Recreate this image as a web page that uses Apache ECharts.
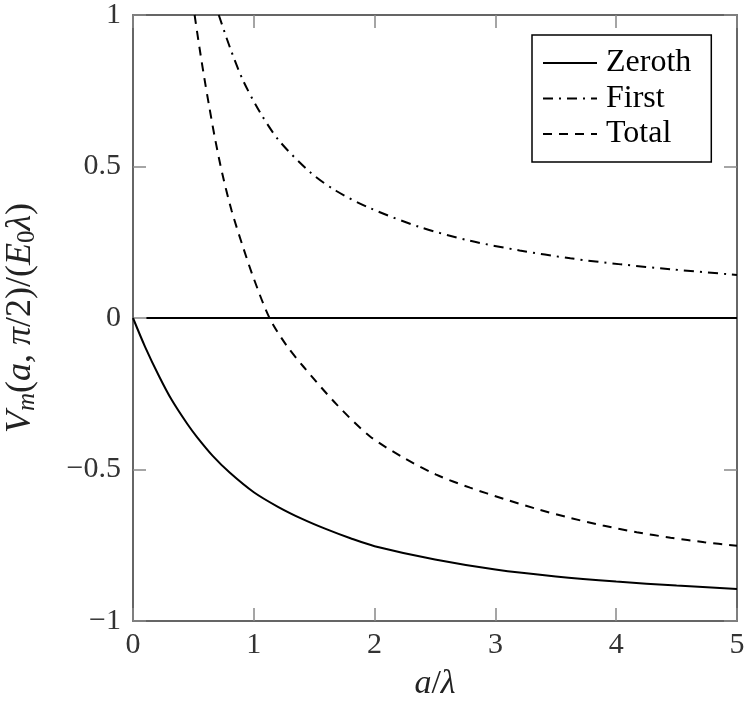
<!DOCTYPE html>
<html>
<head>
<meta charset="utf-8">
<script src="https://cdn.jsdelivr.net/npm/echarts@6/dist/echarts.min.js"></script>
<style>html,body{margin:0;padding:0;background:#fff}#c{width:750px;height:711px}</style>
</head>
<body>
<div id="c"></div>
<script>
// ---- data ----
var zerothX = [0, 0.1, 0.217, 0.32, 0.45, 0.53, 0.66, 0.8, 1.0, 1.2, 1.4, 1.6, 1.8, 2.0, 2.5, 3.0, 3.5, 4.0, 4.5, 5.0];
var zerothY = [0, -0.095, -0.193, -0.27, -0.35, -0.393, -0.455, -0.51, -0.575, -0.623, -0.663, -0.697, -0.727, -0.753, -0.797, -0.83, -0.853, -0.87, -0.883, -0.894];

var firstX = [0.71, 0.805, 0.91, 1.05, 1.21, 1.47, 1.68, 1.96, 2.375, 2.79, 3.2, 3.62, 4.04, 4.45, 5.0];
var firstY = [1.0, 0.89, 0.785, 0.68, 0.585, 0.48, 0.42, 0.363, 0.3, 0.255, 0.223, 0.197, 0.177, 0.161, 0.142];

var totalX = [0.51, 0.55, 0.59, 0.63, 0.68, 0.74, 0.816, 0.91, 1.0, 1.13, 1.27, 1.41, 1.685, 1.96, 2.235, 2.51, 2.79, 3.07, 3.34, 3.62, 3.89, 4.17, 4.45, 4.73, 5.0];
var totalY = [1.0, 0.893, 0.793, 0.70, 0.59, 0.475, 0.355, 0.235, 0.13, 0.0, -0.09, -0.16, -0.285, -0.39, -0.46, -0.517, -0.56, -0.597, -0.63, -0.66, -0.685, -0.707, -0.725, -0.74, -0.752];

var zeroLineX = [0.11, 5.0];
var zeroLineY = [0, 0];

var seriesNames = ['Zeroth', 'First', 'Total'];
var xTicks = [0, 1, 2, 3, 4, 5];
var yTicks = [-1, -0.5, 0, 0.5, 1];

function pairs(xs, ys) { return xs.map(function (x, i) { return [x, ys[i]]; }); }

var FONT = 'Liberation Serif';
var chart = echarts.init(document.getElementById('c'));

function axisLine() { return {show: true, onZero: false, lineStyle: {color: '#333', width: 1.5}}; }
function tick() { return {show: true, inside: true, length: 13, lineStyle: {color: '#888', width: 1.5}}; }

function yFmt(v) { return v < 0 ? '\u2212' + Math.abs(v) : String(v); }

var option = {
  animation: false,
  backgroundColor: '#fff',
  grid: {left: 133, right: 13, top: 15, bottom: 90, outerBoundsMode: 'none'},
  legend: {
    data: seriesNames,
    orient: 'vertical',
    left: 532, top: 35,
    itemWidth: 54, itemHeight: 14, itemGap: 3.5,
    padding: [12, 20, 12, 10],
    borderColor: '#000', borderWidth: 1.5,
    backgroundColor: '#fff',
    itemStyle: {opacity: 0},
    textStyle: {fontSize: 32, fontFamily: FONT, color: '#000', padding: [0, 0, 0, 4]}
  },
  xAxis: [{
    type: 'value', min: xTicks[0], max: xTicks[xTicks.length - 1], interval: 1,
    position: 'bottom',
    axisLine: axisLine(), axisTick: tick(), splitLine: {show: false},
    axisLabel: {show: true, fontSize: 30, fontFamily: FONT, color: '#333', margin: 9},
    name: '{i|a}{n|/}{i|\u03bb}', nameLocation: 'middle', nameGap: 46,
    nameTextStyle: {rich: {
      i: {fontSize: 34, fontFamily: FONT, fontStyle: 'italic', color: '#222'},
      n: {fontSize: 34, fontFamily: FONT, color: '#222'}
    }}
  }, {
    type: 'value', min: 0, max: 5, interval: 1, position: 'top',
    axisLine: axisLine(), axisTick: tick(), splitLine: {show: false}, axisLabel: {show: false}
  }],
  yAxis: [{
    type: 'value', min: yTicks[0], max: yTicks[yTicks.length - 1], interval: 0.5,
    position: 'left',
    axisLine: axisLine(), axisTick: tick(), splitLine: {show: false},
    axisLabel: {show: true, fontSize: 30, fontFamily: FONT, color: '#333', margin: 12, formatter: yFmt},
    name: '{i|V}{s|m}{n|(}{i|a}{n|, }{i|\u03c0}{n|/2)/(}{i|E}{s0|0}{i|\u03bb}{n|)}',
    nameLocation: 'middle', nameGap: 93, nameRotate: 90,
    nameTextStyle: {rich: {
      i: {fontSize: 36, fontFamily: FONT, fontStyle: 'italic', color: '#222', lineHeight: 38},
      n: {fontSize: 36, fontFamily: FONT, color: '#222', lineHeight: 38},
      s: {fontSize: 25, fontFamily: FONT, fontStyle: 'italic', color: '#222', lineHeight: 22, verticalAlign: 'bottom'},
      s0: {fontSize: 25, fontFamily: FONT, color: '#222', lineHeight: 22, verticalAlign: 'bottom'}
    }}
  }, {
    type: 'value', min: -1, max: 1, interval: 0.5, position: 'right',
    axisLine: axisLine(), axisTick: tick(), splitLine: {show: false}, axisLabel: {show: false}
  }],
  series: [{
    name: seriesNames[0], type: 'line', symbol: 'none', smooth: 0.3,
    data: pairs(zerothX, zerothY),
    lineStyle: {color: '#000', width: 2, type: 'solid'}, itemStyle: {color: '#000'}
  }, {
    name: seriesNames[1], type: 'line', symbol: 'none', smooth: 0.3,
    data: pairs(firstX, firstY),
    lineStyle: {color: '#000', width: 2, type: [10, 6, 2, 6]}, itemStyle: {color: '#000'}
  }, {
    name: seriesNames[2], type: 'line', symbol: 'none', smooth: 0.3,
    data: pairs(totalX, totalY),
    lineStyle: {color: '#000', width: 2, type: [9, 7]}, itemStyle: {color: '#000'}
  }, {
    name: 'zero', type: 'line', symbol: 'none',
    data: pairs(zeroLineX, zeroLineY),
    lineStyle: {color: '#000', width: 2}, itemStyle: {color: '#000'}
  }]
};
chart.setOption(option);
</script>
</body>
</html>
